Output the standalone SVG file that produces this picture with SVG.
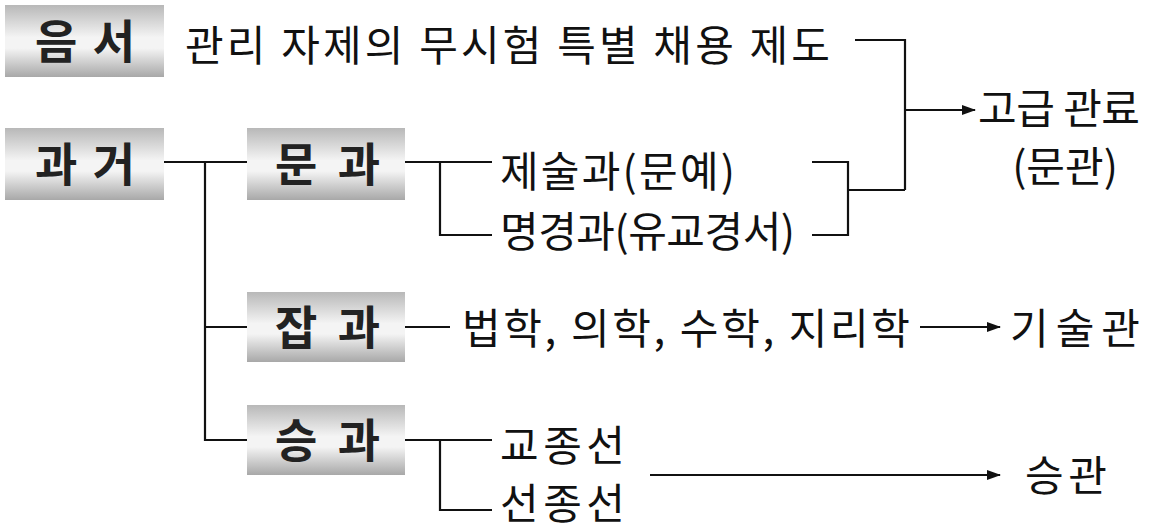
<svg xmlns="http://www.w3.org/2000/svg" width="1158" height="529" viewBox="0 0 1158 529">
<style>
.b{font-family:"Noto Sans CJK KR",sans-serif;font-weight:bold;font-size:46px;fill:#222}
.t{font-family:"Noto Sans CJK KR",sans-serif;font-size:42px;fill:#111}
.c{stroke:#111;stroke-width:2.2;fill:none}
</style>
<defs>
<linearGradient id="g" x1="0" y1="0" x2="0" y2="1">
<stop offset="0" stop-color="#b8b8b8"/><stop offset="0.45" stop-color="#f4f4f4"/><stop offset="0.6" stop-color="#f4f4f4"/><stop offset="1" stop-color="#a8a8a8"/>
</linearGradient>
<marker id="a" markerWidth="14" markerHeight="10" refX="13" refY="5" orient="auto" markerUnits="userSpaceOnUse"><path d="M0,0 L14,5 L0,10 Z" fill="#111"/></marker>
</defs>
<rect width="1158" height="529" fill="#fff"/>
<g id="eumseo"><rect x="5" y="5" width="159" height="72" fill="url(#g)"/><text class="b" x="35" y="58" textLength="100">음 서</text></g>
<g id="gwageo"><rect x="5" y="128" width="159" height="72" fill="url(#g)"/><text class="b" x="35" y="181" textLength="100">과 거</text></g>
<g id="mungwa"><rect x="247" y="128" width="158" height="72" fill="url(#g)"/><text class="b" x="275" y="181" textLength="105">문 과</text></g>
<g id="japgwa"><rect x="247" y="292" width="158" height="70" fill="url(#g)"/><text class="b" x="275" y="344" textLength="105">잡 과</text></g>
<g id="seunggwa"><rect x="247" y="405" width="158" height="70" fill="url(#g)"/><text class="b" x="275" y="457" textLength="105">승 과</text></g>
<g id="labels">
<text class="t" x="185" y="61" textLength="645">관리 자제의 무시험 특별 채용 제도</text>
<text class="t" x="500" y="187" textLength="235">제술과(문예)</text>
<text class="t" x="500" y="247" textLength="295">명경과(유교경서)</text>
<text class="t" x="978" y="124" textLength="162">고급 관료</text>
<text class="t" x="1065" y="182" text-anchor="middle">(문관)</text>
<text class="t" x="462" y="344" textLength="448">법학, 의학, 수학, 지리학</text>
<text class="t" x="1010" y="344" textLength="130">기술관</text>
<text class="t" x="500" y="461" textLength="125">교종선</text>
<text class="t" x="500" y="519" textLength="125">선종선</text>
<text class="t" x="1025" y="491" textLength="82">승관</text>
</g>
<g id="connectors" class="c">
<path d="M164,162 H247 M205,162 V440 H247 M205,327 H247"/>
<path d="M405,162 H492 M440,162 V235 H492"/>
<path d="M812,162 H848 V235 H812 M848,190 H905 M855,40 H905 V190"/>
<path d="M905,110 H975" marker-end="url(#a)"/>
<path d="M405,327 H450"/>
<path d="M920,327 H1000" marker-end="url(#a)"/>
<path d="M405,440 H492 M440,440 V510 H492"/>
<path d="M650,475 H1000" marker-end="url(#a)"/>
</g>
</svg>
